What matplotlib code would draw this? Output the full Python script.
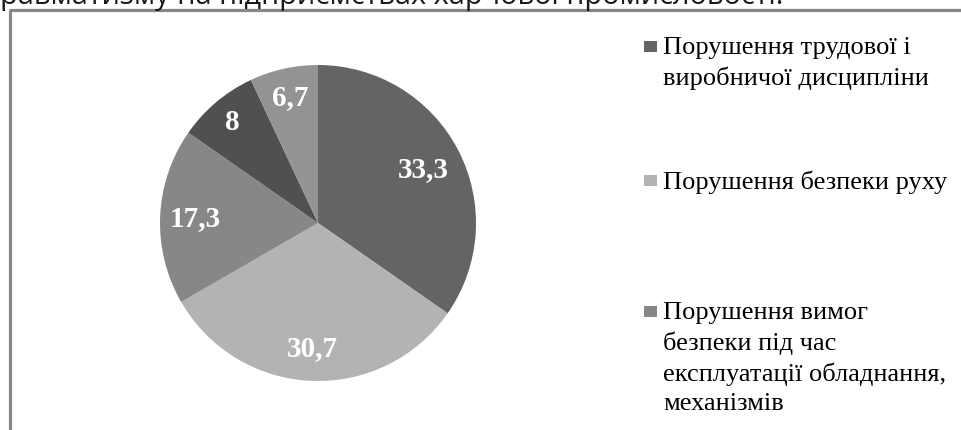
import matplotlib
matplotlib.use("Agg")
import matplotlib.pyplot as plt
from matplotlib.lines import Line2D
from matplotlib.patches import Rectangle
import numpy as np

values = [33.3, 30.7, 17.3, 8, 6.7]
value_labels = ["33,3", "30,7", "17,3", "8", "6,7"]
colors = ["#646464", "#b3b3b3", "#878787", "#505050", "#939393"]
legend_labels = [
    "Порушення трудової і\nвиробничої дисципліни",
    "Порушення безпеки руху",
    "Порушення вимог\nбезпеки під час\nексплуатації обладнання,\nмеханізмів",
]
title_text = "равматизму на підприємствах харчової промисловості."

W, H = 961, 431
fig = plt.figure(figsize=(W / 100, H / 100), dpi=100)

def fx(px):
    return px / W

def fy(py):
    return 1 - py / H

# pie axes
cx, cy, r = 318, 224, 158
ax = fig.add_axes([fx(cx - r), fy(cy + r), 2 * r / W, 2 * r / H])
wedges, _ = ax.pie(values, colors=colors, startangle=90, counterclock=False,
                   radius=1, wedgeprops=dict(linewidth=0))
ax.set_xlim(-1, 1)
ax.set_ylim(-1, 1)
ax.set_aspect("equal")
ax.axis("off")

label_r = [0.75, 0.79, 0.78, 0.84, 0.82]
for w, lab, lr in zip(wedges, value_labels, label_r):
    mid = np.deg2rad((w.theta1 + w.theta2) / 2)
    ax.text(lr * np.cos(mid), lr * np.sin(mid), lab, ha="center", va="center",
            color="white", fontsize=21, fontweight="bold",
            family="Liberation Serif")

# frame lines (chart area border, partially visible)
fig.add_artist(Line2D([fx(9.5), fx(9.5)], [fy(10.5), fy(H + 5)], color="#878787",
                      linewidth=2.3, transform=fig.transFigure, solid_capstyle="butt"))
fig.add_artist(Line2D([fx(8.5), fx(W + 5)], [fy(10.5), fy(10.5)], color="#878787",
                      linewidth=2.3, transform=fig.transFigure, solid_capstyle="butt"))

# cut-off title text (partially visible in the reference)
fig.text(0, fy(4), title_text, ha="left", va="baseline", fontsize=20.8,
         family="Open Sans", color="#1a1a1a")

# legend (manually placed entries)
line_h = 30.5
first_line_y = [48, 182, 313]
for lab, col, y0 in zip(legend_labels, colors[:3], first_line_y):
    fig.add_artist(Rectangle((fx(644), fy(y0 + 5)), 13 / W, 11 / H, facecolor=col,
                             edgecolor="none", transform=fig.transFigure))
    for i, line in enumerate(lab.split("\n")):
        fig.text(fx(663), fy(y0 + i * line_h), line, ha="left", va="center",
                 fontsize=19, family="Liberation Serif", color="black")

fig.savefig("out.png", dpi=100)
